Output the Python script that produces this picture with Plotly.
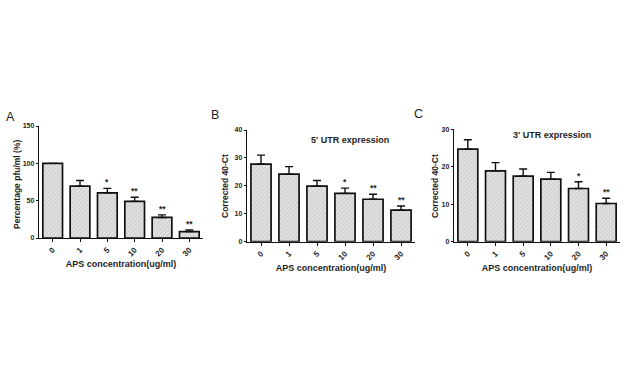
import plotly.graph_objects as go

categories = ["0", "1", "5", "10", "20", "30"]

a_values = [100, 69.5, 60.5, 49, 27.5, 8.5]
a_err_top = [100, 77, 66.5, 54.6, 31, 10.8]
a_stars = ["", "", "*", "**", "**", "**"]

b_values = [27.8, 24.2, 19.9, 17.3, 15.2, 11.3]
b_err_top = [31, 26.9, 21.9, 19.2, 17, 12.8]
b_stars = ["", "", "", "*", "**", "**"]

c_values = [24.7, 18.9, 17.5, 16.7, 14.2, 10.2]
c_err_top = [27.2, 21.1, 19.4, 18.5, 16, 11.6]
c_stars = ["", "", "", "", "*", "**"]

W, H = 627, 376
panels = [
    dict(vals=a_values, err=a_err_top, stars=a_stars, rng=150, dtick=50,
         ytitle="Percentage pfu/ml (%)", letter="A", title=None,
         xdom=[39, 203], ydom=[238, 126], ytpos=(17, 185), letpos=(10, 117), titpos=None),
    dict(vals=b_values, err=b_err_top, stars=b_stars, rng=40, dtick=10,
         ytitle="Corrected 40-Ct", letter="B", title="5' UTR expression",
         xdom=[247, 415], ydom=[241.7, 130], ytpos=(225, 186), letpos=(215, 115), titpos=(350, 140)),
    dict(vals=c_values, err=c_err_top, stars=c_stars, rng=30, dtick=10,
         ytitle="Corrected 40-Ct", letter="C", title="3' UTR expression",
         xdom=[454, 620], ydom=[241.7, 129.3], ytpos=(435, 186), letpos=(418, 114), titpos=(552, 135)),
]

FONT = "Liberation Sans, Arial, sans-serif"
TXT = "#1e1e1e"
fig = go.Figure()
annotations = []
layout = {}
for i, p in enumerate(panels):
    n = "" if i == 0 else str(i + 1)
    xa, ya = "x" + n, "y" + n
    fig.add_trace(go.Bar(
        x=categories, y=p["vals"], xaxis=xa, yaxis=ya, width=0.72,
        marker=dict(color="#dcdcdc", line=dict(color="#111111", width=1.7),
                    pattern=dict(shape="/", fgcolor="#acacac", bgcolor="#e2e2e2",
                                 size=3, solidity=0.3)),
        error_y=dict(type="data", symmetric=False,
                     array=[e - v for e, v in zip(p["err"], p["vals"])],
                     arrayminus=[0] * len(p["vals"]),
                     color="#111111", thickness=1.4, width=4),
        showlegend=False, hoverinfo="skip",
    ))
    for k, (e, s) in enumerate(zip(p["err"], p["stars"])):
        if s:
            annotations.append(dict(x=k, y=e, xref=xa, yref=ya, text="<b>" + s + "</b>",
                                    showarrow=False, yanchor="bottom", yshift=-1,
                                    font=dict(size=8.5, color=TXT, family=FONT)))
    layout["xaxis" + n] = dict(domain=[p["xdom"][0] / W, p["xdom"][1] / W], anchor=ya,
                               type="category",
                               range=[-0.5, len(categories) - 0.5], automargin=False,
                               showline=True, linecolor="#111",
                               linewidth=1.4, ticks="outside", ticklen=3, tickcolor="#111",
                               tickangle=-45,
                               tickfont=dict(size=8, color=TXT, family=FONT, weight="bold"),
                               title=dict(text="<b>APS concentration(ug/ml)</b>", standoff=3,
                                          font=dict(size=9, color=TXT, family=FONT)),
                               showgrid=False, zeroline=False, fixedrange=True)
    layout["yaxis" + n] = dict(domain=[1 - p["ydom"][0] / H, 1 - p["ydom"][1] / H], anchor=xa,
                               range=[0, p["rng"]], dtick=p["dtick"],
                               automargin=False,
                               showline=True, linecolor="#111", linewidth=1.4, ticks="outside",
                               ticklen=2, tickcolor="#111",
                               tickfont=dict(size=7, color=TXT, family=FONT, weight="bold"),
                               showgrid=False, zeroline=False, fixedrange=True)
    annotations.append(dict(x=p["ytpos"][0] / W, y=1 - p["ytpos"][1] / H, xref="paper",
                            yref="paper", text="<b>" + p["ytitle"] + "</b>", textangle=-90,
                            showarrow=False, xanchor="center", yanchor="middle",
                            font=dict(size=8.5, color=TXT, family=FONT)))
    annotations.append(dict(x=p["letpos"][0] / W, y=1 - p["letpos"][1] / H, xref="paper",
                            yref="paper", text=p["letter"], showarrow=False,
                            xanchor="center", yanchor="middle",
                            font=dict(size=12.5, color=TXT, family=FONT)))
    if p["title"]:
        annotations.append(dict(x=p["titpos"][0] / W, y=1 - p["titpos"][1] / H,
                                xref="paper", yref="paper", xanchor="center", yanchor="middle",
                                text="<b>" + p["title"] + "</b>", showarrow=False,
                                font=dict(size=9, color=TXT, family=FONT)))

fig.update_layout(width=W, height=H, margin=dict(l=0, r=0, t=0, b=0, autoexpand=False),
                  paper_bgcolor="white", plot_bgcolor="white", bargap=0.3,
                  annotations=annotations, **layout)
fig.write_html("out.html", config={"displayModeBar": False},
               post_script="document.body.style.margin='0';document.body.style.overflow='hidden';")
